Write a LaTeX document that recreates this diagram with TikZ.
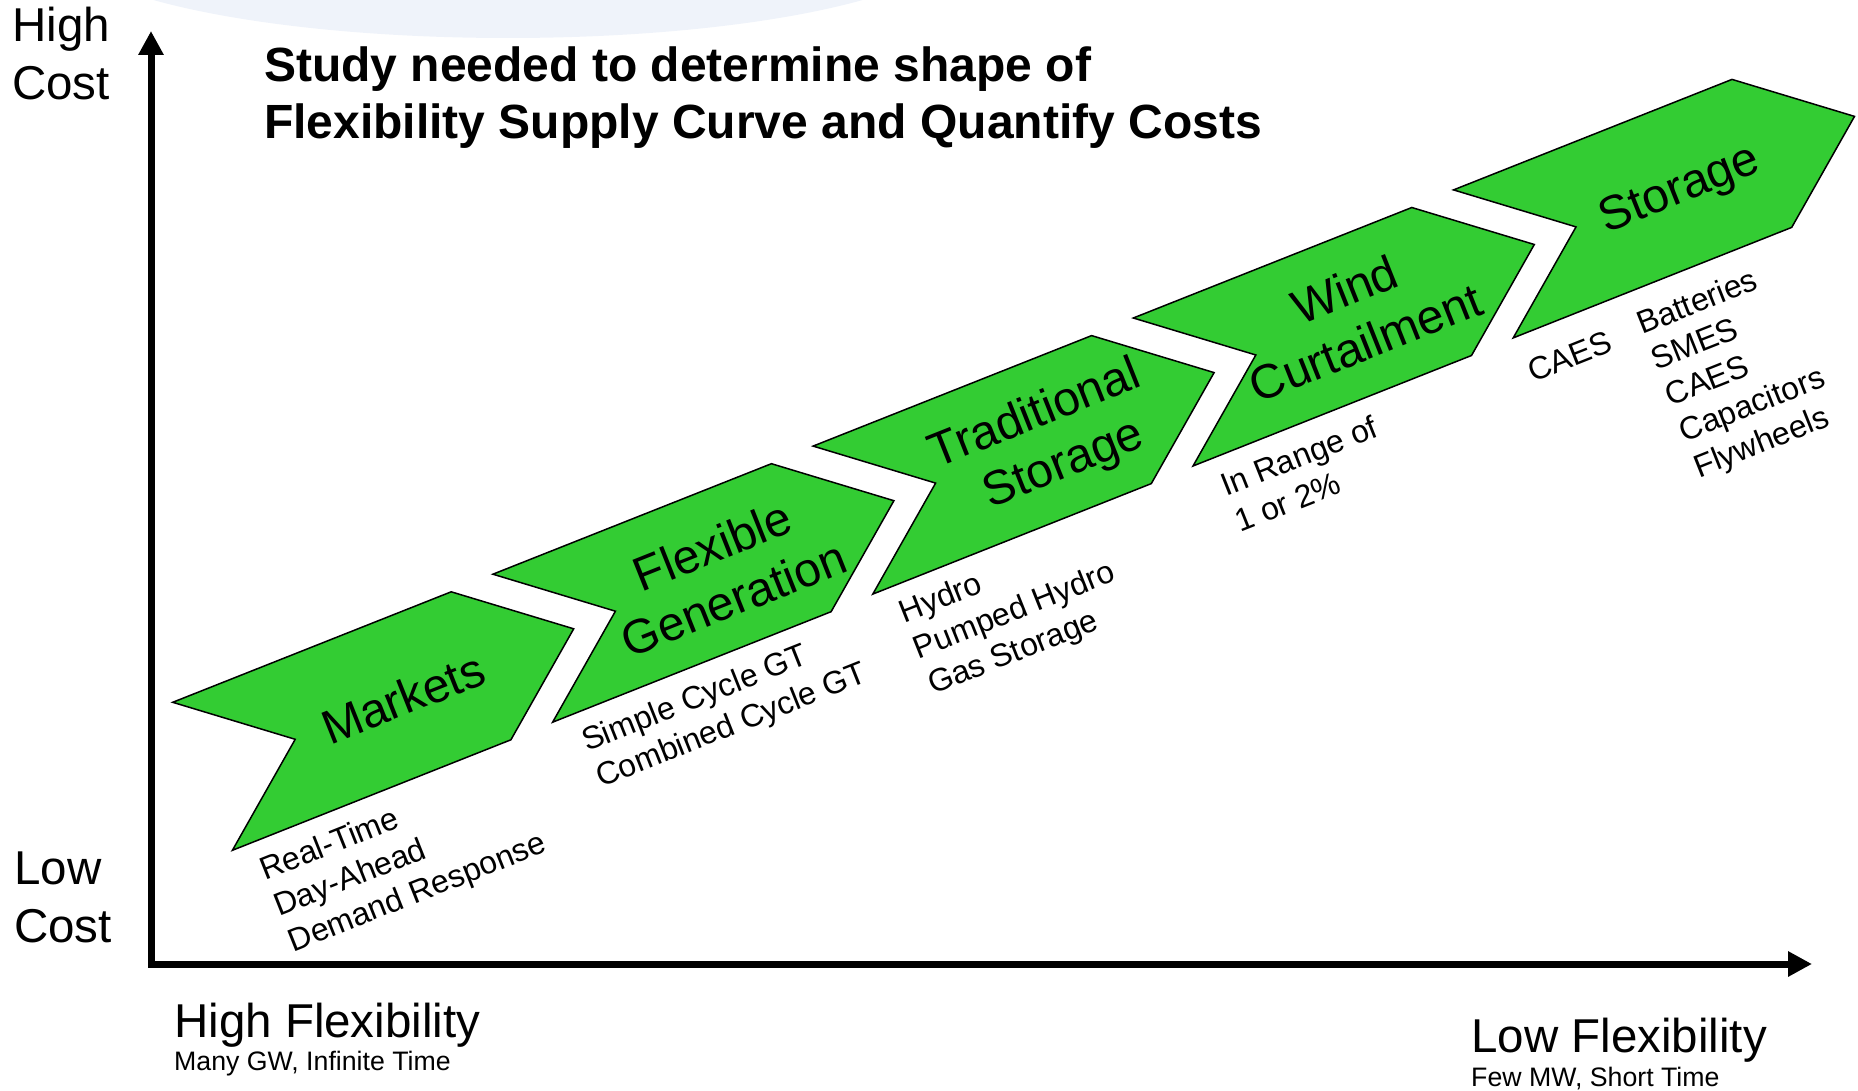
\documentclass[tikz,border=0pt]{standalone}
\usepackage{fontspec}
\setmainfont{Liberation Sans}
\usetikzlibrary{arrows.meta}
\definecolor{cgreen}{RGB}{51,204,51}
\definecolor{cpale}{RGB}{239,243,250}
\begin{document}
\begin{tikzpicture}[x=1pt,y=-1pt,
  chev/.style={draw=black, line width=1.5pt, fill=cgreen, line join=miter},
  ctext/.style={font=\fontsize{48}{57}\selectfont, align=center, rotate=21.7, inner sep=0pt},
  ltext/.style={font=\fontsize{32}{38.5}\selectfont, align=left, rotate=21.7, inner sep=0pt, anchor=base west},
  axisline/.style={line width=7pt, line join=miter, {Triangle[length=24pt,width=24pt]}-{Triangle[length=24pt,width=24pt]}},
  big/.style={font=\fontsize{47.5}{58}\selectfont, inner sep=0pt, anchor=base west, align=left},
  small/.style={font=\fontsize{26.7}{30}\selectfont, inner sep=0pt, anchor=base west},
  titletext/.style={font=\bfseries\fontsize{48}{57}\selectfont, inner sep=0pt, anchor=base west, align=left},
]
\useasboundingbox (0,0) rectangle (1858,1091);
\begin{scope}
\clip (0,0) rectangle (1858,1091);
\fill[cpale] (508,-62) ellipse [x radius=452, y radius=100];
\end{scope}

% chevrons
\foreach \k in {0,...,4}{
  \draw[chev] ({172.7+320.2*\k},{702.3-128.1*\k}) -- ++(278.5,-110.5) -- ++(122.5,37) -- ++(-62.8,111) -- ++(-278.5,110.5) -- ++(62.8,-111) -- cycle;
}

% chevron labels
\node[ctext] (markets) at (403,698) {Markets};
\node[ctext] (flexgen) at (723,572) {Flexible\\Generation};
\node[ctext] (tradstor) at (1046,442) {Traditional\\\hspace*{16pt}Storage};
\node[ctext] (wind) at (1355,316) {Wind\\Curtailment};
\node[ctext] (storage) at (1680,191) {Storage};

% lists (anchor = baseline of the last line)
\node[ltext] (l1) at (293.5,952.5) {Real-Time\\Day-Ahead\\Demand Response};
\node[ltext] (l2) at (601.2,787.8) {Simple Cycle GT\\Combined Cycle GT};
\node[ltext] (l3) at (933,695) {Hydro\\Pumped Hydro\\Gas Storage};
\node[ltext] (l4) at (1240.5,532.8) {In Range of\\1 or 2\%};
\node[ltext] (l5a) at (1533,383) {CAES};
\node[ltext] (l5b) at (1698.9,478.1) {Batteries\\SMES\\CAES\\Capacitors\\Flywheels};

% axes
\coordinate (o) at (151,964);
\coordinate (ytip) at (151,31);
\coordinate (xtip) at (1812,964);
\draw[axisline] (ytip) -- (o) -- (xtip);

% axis labels
\node[big] (hc) at (12,100) {High\\Cost};
\node[big] (lc) at (14,942) {Low\\Cost};
\node[big] (hf) at (174,1037) {High Flexibility};
\node[small] (hfs) at (174,1070) {Many GW, Infinite Time};
\node[big] (lf) at (1471,1052) {Low Flexibility};
\node[small] (lfs) at (1471,1086) {Few MW, Short Time};

% title
\node[titletext] (title) at (264,139) {Study needed to determine shape of\\Flexibility Supply Curve and Quantify Costs};
\end{tikzpicture}
\end{document}
